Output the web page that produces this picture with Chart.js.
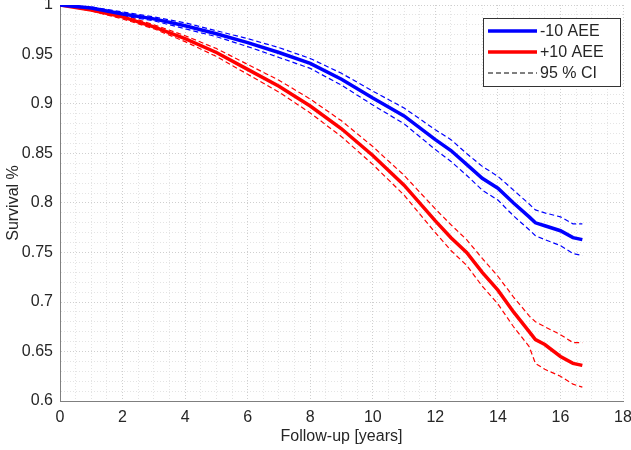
<!DOCTYPE html>
<html>
<head>
<meta charset="utf-8">
<script src="https://cdn.jsdelivr.net/npm/chart.js@4.4.1/dist/chart.umd.min.js"></script>
<style>
  html, body { margin: 0; padding: 0; background: #fff; }
  #wrap { width: 631px; height: 450px; }
</style>
</head>
<body>
<div id="wrap"><canvas id="survivalChart"></canvas></div>
<script>
// follow-up time (years)
var followUp = [0, 1, 2, 3, 4, 5, 6, 7, 8, 9, 10, 11, 12, 12.5, 13, 13.5, 14, 14.5, 15, 15.2, 15.5, 16, 16.4, 16.7];

// -10 AEE
var lowSurv  = [1.0, 0.997, 0.991, 0.986, 0.979, 0.971, 0.962, 0.952, 0.941, 0.925, 0.906, 0.888, 0.864, 0.853, 0.839, 0.825, 0.815, 0.800, 0.786, 0.780, 0.777, 0.772, 0.765, 0.763];
var lowUpper = [1.0, 0.998, 0.993, 0.988, 0.982, 0.974, 0.966, 0.957, 0.946, 0.931, 0.913, 0.896, 0.874, 0.864, 0.850, 0.837, 0.827, 0.813, 0.799, 0.793, 0.790, 0.786, 0.779, 0.779];
var lowLower = [1.0, 0.996, 0.989, 0.984, 0.976, 0.968, 0.958, 0.947, 0.936, 0.919, 0.899, 0.880, 0.854, 0.842, 0.828, 0.813, 0.803, 0.787, 0.773, 0.767, 0.763, 0.757, 0.749, 0.747];

// +10 AEE
var highSurv  = [1.0, 0.995, 0.988, 0.978, 0.966, 0.952, 0.935, 0.918, 0.898, 0.875, 0.848, 0.818, 0.782, 0.765, 0.750, 0.730, 0.712, 0.690, 0.670, 0.662, 0.657, 0.645, 0.638, 0.636];
var highUpper = [1.0, 0.996, 0.990, 0.980, 0.969, 0.956, 0.940, 0.924, 0.905, 0.883, 0.857, 0.828, 0.794, 0.778, 0.763, 0.744, 0.726, 0.705, 0.686, 0.680, 0.675, 0.667, 0.659, 0.659];
var highLower = [1.0, 0.994, 0.986, 0.976, 0.963, 0.948, 0.930, 0.912, 0.891, 0.867, 0.839, 0.808, 0.770, 0.752, 0.737, 0.716, 0.698, 0.675, 0.655, 0.638, 0.632, 0.625, 0.617, 0.614];

var seriesLabels = ['-10 AEE', '+10 AEE', '95 % CI'];
var xTickValues = [0, 2, 4, 6, 8, 10, 12, 14, 16, 18];
var yTickValues = [0.6, 0.65, 0.7, 0.75, 0.8, 0.85, 0.9, 0.95, 1];

var FONT = "'Liberation Sans', Arial, Helvetica, sans-serif";
var TXT = '#262626';

function toPoints(vals) {
    return followUp.map(function (t, i) { return { x: t, y: vals[i] }; });
}

function isMajor(v, list) {
    return list.some(function (m) { return Math.abs(m - v) < 1e-6; });
}

function mainLine(label, vals, color) {
    return {
        label: label, data: toPoints(vals),
        borderColor: color, borderWidth: 3.5,
        pointRadius: 0, tension: 0, fill: false, order: 0
    };
}

function ciLine(vals, color) {
    return {
        label: seriesLabels[2], data: toPoints(vals),
        borderColor: color, borderWidth: 1.2, borderDash: [5, 3],
        pointRadius: 0, tension: 0, fill: false, order: 1
    };
}

// legend drawn inside the axes, matlab style
var legendBox = {
    id: 'legendBox',
    afterDraw: function (chart) {
        var ctx = chart.ctx, a = chart.chartArea;
        var bx = a.right - 140, by = a.top + 13, bw = 137, bh = 68;
        ctx.save();
        ctx.fillStyle = '#fff';
        ctx.fillRect(bx, by, bw, bh);
        ctx.strokeStyle = '#333';
        ctx.lineWidth = 1;
        ctx.strokeRect(bx + 0.5, by + 0.5, bw, bh);

        var entries = [
            { color: '#0000ff', width: 3.5, dash: [] },
            { color: '#ff0000', width: 3.5, dash: [] },
            { color: '#000000', width: 1, dash: [5, 3] }
        ];
        ctx.font = '16px ' + FONT;
        ctx.textBaseline = 'middle';
        entries.forEach(function (e, i) {
            var y = by + 13 + i * 21;
            ctx.beginPath();
            ctx.setLineDash(e.dash);
            ctx.strokeStyle = e.color;
            ctx.lineWidth = e.width;
            ctx.moveTo(bx + 5, y);
            ctx.lineTo(bx + 54, y);
            ctx.stroke();
            ctx.setLineDash([]);
            ctx.fillStyle = TXT;
            ctx.fillText(seriesLabels[i], bx + 57, y + 1);
        });
        ctx.restore();
    }
};

var ctx = document.getElementById('survivalChart').getContext('2d');
var survivalChart = new Chart(ctx, {
    type: 'line',
    data: {
        datasets: [
            mainLine(seriesLabels[0], lowSurv, '#0000ff'),
            mainLine(seriesLabels[1], highSurv, '#ff0000'),
            ciLine(lowUpper, '#0000ff'),
            ciLine(lowLower, '#0000ff'),
            ciLine(highUpper, '#ff0000'),
            ciLine(highLower, '#ff0000')
        ]
    },
    options: {
        responsive: true,
        maintainAspectRatio: false,
        animation: false,
        layout: { padding: { top: 5, right: 8, left: 0, bottom: 0 } },
        plugins: {
            legend: { display: false },
            tooltip: { enabled: false }
        },
        scales: {
            x: {
                type: 'linear', min: 0, max: 18,
                afterFit: function (scale) {
                    scale.height = 49;
                    scale.paddingLeft = 0;
                    scale.paddingRight = 0;
                },
                ticks: {
                    stepSize: 0.5, autoSkip: false, maxRotation: 0, padding: 7,
                    color: TXT, font: { family: FONT, size: 16 },
                    callback: function (v) { return isMajor(v, xTickValues) ? String(v) : ''; }
                },
                grid: {
                    drawTicks: false,
                    color: function (c) { return isMajor(c.tick.value, xTickValues) ? '#cfcfcf' : '#e4e4e4'; }
                },
                border: { color: '#7f7f7f', width: 1, dash: [1, 2] },
                title: {
                    display: true, text: 'Follow-up [years]', color: TXT,
                    font: { family: FONT, size: 16 }, padding: { top: 2 }
                }
            },
            y: {
                type: 'linear', min: 0.6, max: 1,
                afterFit: function (scale) {
                    scale.width = 60;
                    scale.paddingTop = 0;
                    scale.paddingBottom = 0;
                },
                ticks: {
                    stepSize: 0.01, autoSkip: false, padding: 7,
                    color: TXT, font: { family: FONT, size: 16 },
                    callback: function (v) { return isMajor(v, yTickValues) ? String(Math.round(v * 100) / 100) : ''; }
                },
                grid: {
                    drawTicks: false,
                    color: function (c) { return isMajor(c.tick.value, yTickValues) ? '#cfcfcf' : '#e4e4e4'; }
                },
                border: { color: '#7f7f7f', width: 1, dash: [1, 2] },
                title: {
                    display: true, text: 'Survival %', color: TXT,
                    font: { family: FONT, size: 16 }, padding: { bottom: 0 }
                }
            }
        }
    },
    plugins: [legendBox]
});
</script>
</body>
</html>
